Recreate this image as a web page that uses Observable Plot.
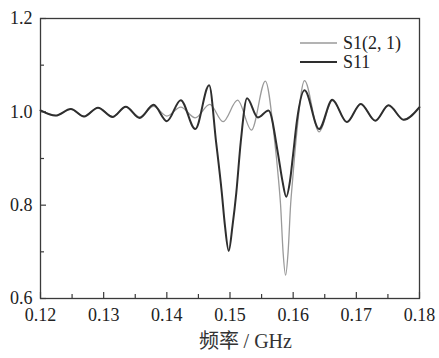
<!DOCTYPE html>
<html><head><meta charset="utf-8">
<script src="https://cdn.jsdelivr.net/npm/d3@7"></script>
<script src="https://cdn.jsdelivr.net/npm/@observablehq/plot@0.6"></script>
<style>
body{margin:0;background:#fff}
</style>
</head><body><div id="chart"></div>
<script>
const seriesNames = ["S1(2, 1)", "S11"];
const xLabel = "频率 / GHz";

const s11Freq = [0.1200, 0.1224, 0.1248, 0.1269, 0.1291, 0.1314, 0.1335, 0.1357, 0.1379, 0.1400, 0.1422, 0.1445, 0.1467, 0.1478, 0.1487, 0.1492, 0.1498, 0.1504, 0.1510, 0.1517, 0.1527, 0.1544, 0.1561, 0.1576, 0.1583, 0.1589, 0.1595, 0.1600, 0.1606, 0.1618, 0.1641, 0.1662, 0.1685, 0.1707, 0.1730, 0.1751, 0.1775, 0.1800];
const s11Vals = [1.003, 0.992, 1.006, 0.990, 1.009, 0.989, 1.011, 0.987, 1.015, 0.980, 1.025, 0.963, 1.057, 0.935, 0.827, 0.756, 0.702, 0.756, 0.827, 0.935, 1.029, 0.988, 1.003, 0.910, 0.852, 0.818, 0.852, 0.910, 0.981, 1.046, 0.963, 1.026, 0.978, 1.017, 0.981, 1.014, 0.983, 1.010];

const s21Freq = [0.1200, 0.1224, 0.1248, 0.1269, 0.1291, 0.1314, 0.1335, 0.1357, 0.1379, 0.1400, 0.1422, 0.1445, 0.1468, 0.1489, 0.1512, 0.1534, 0.1556, 0.1570, 0.1577, 0.1580, 0.1584, 0.1588, 0.1592, 0.1596, 0.1599, 0.1605, 0.1618, 0.1641, 0.1662, 0.1685, 0.1707, 0.1730, 0.1751, 0.1775, 0.1800];
const s21Vals = [1.003, 0.992, 1.006, 0.990, 1.009, 0.990, 1.010, 0.989, 1.012, 0.991, 1.010, 0.987, 1.016, 0.979, 1.025, 0.961, 1.066, 0.946, 0.852, 0.802, 0.700, 0.650, 0.700, 0.802, 0.852, 0.946, 1.067, 0.957, 1.024, 0.978, 1.017, 0.981, 1.014, 0.983, 1.010];

const xTicks = [0.12, 0.13, 0.14, 0.15, 0.16, 0.17, 0.18];
const xMinor = [0.125, 0.135, 0.145, 0.155, 0.165, 0.175];
const yTicks = [0.6, 0.8, 1.0, 1.2];
const yMinor = [0.7, 0.9, 1.1];

const W = 439, H = 358, mL = 40, mR = 20, mT = 18, mB = 60;
const frameW = W - mL - mR, frameH = H - mT - mB;
const serif = "Liberation Serif";
const cjk = "Noto Sans CJK SC";
const axisColor = "#3a3a3a";
const s21Color = "#9a9a9a", s11Color = "#2e2e2e";

const s21Rows = s21Freq.map((f, i) => ({f, v: s21Vals[i]}));
const s11Rows = s11Freq.map((f, i) => ({f, v: s11Vals[i]}));

function legend(index, scales, values, dims) {
  const g = d3.create("svg:g");
  const right = dims.width - dims.marginRight;
  const items = [
    {name: seriesNames[0], color: s21Color, w: 1.3},
    {name: seriesNames[1], color: s11Color, w: 2}
  ];
  items.forEach((it, i) => {
    const y = dims.marginTop + 25 + i * 19;
    g.append("line").attr("x1", right - 119).attr("x2", right - 82)
      .attr("y1", y).attr("y2", y).attr("stroke", it.color).attr("stroke-width", it.w);
    g.append("text").attr("x", right - 76).attr("y", y).attr("dy", "0.35em")
      .attr("text-anchor", "start").attr("font-family", serif)
      .attr("fill", "#222").attr("font-size", 18).text(it.name);
  });
  return g.node();
}

function xTitle(index, scales, values, dims) {
  const g = d3.create("svg:g");
  const cx = (dims.marginLeft + dims.width - dims.marginRight) / 2 + 16;
  const t = g.append("text").attr("x", cx).attr("y", dims.height - 10)
    .attr("text-anchor", "middle").attr("font-size", 20).attr("fill", "#333");
  const parts = xLabel.split(" ");
  t.append("tspan").attr("font-family", cjk).text(parts[0] + " ");
  t.append("tspan").attr("font-family", serif).text(parts.slice(1).join(" "));
  return g.node();
}

const chart = Plot.plot({
  width: W, height: H,
  marginLeft: mL, marginRight: mR, marginTop: mT, marginBottom: mB,
  style: {fontSize: "18px", color: "#222", background: "#fff"},
  x: {domain: [0.12, 0.18], label: null},
  y: {domain: [0.6, 1.2], label: null},
  marks: [
    Plot.frame({stroke: axisColor, strokeWidth: 1.3}),
    Plot.tickX(xTicks, {x: d => d, insetTop: frameH - 6, stroke: axisColor, strokeWidth: 1.2}),
    Plot.tickX(xMinor, {x: d => d, insetTop: frameH - 4, stroke: axisColor, strokeWidth: 1.2}),
    Plot.tickY(yTicks, {y: d => d, insetRight: frameW - 6, stroke: axisColor, strokeWidth: 1.2}),
    Plot.tickY(yMinor, {y: d => d, insetRight: frameW - 4, stroke: axisColor, strokeWidth: 1.2}),
    Plot.axisX(xTicks, {tickSize: 0, tickPadding: 10, tickFormat: d3.format(".2f"), label: null, fontSize: 18, fontFamily: serif}),
    Plot.axisY(yTicks, {tickSize: 0, tickPadding: 8, tickFormat: d3.format(".1f"), label: null, fontSize: 18, fontFamily: serif}),
    Plot.line(s21Rows, {x: "f", y: "v", curve: "monotone-x", stroke: s21Color, strokeWidth: 1.3}),
    Plot.line(s11Rows, {x: "f", y: "v", curve: "monotone-x", stroke: s11Color, strokeWidth: 2}),
    xTitle,
    legend
  ]
});
document.getElementById("chart").appendChild(chart);
</script>
</body></html>
